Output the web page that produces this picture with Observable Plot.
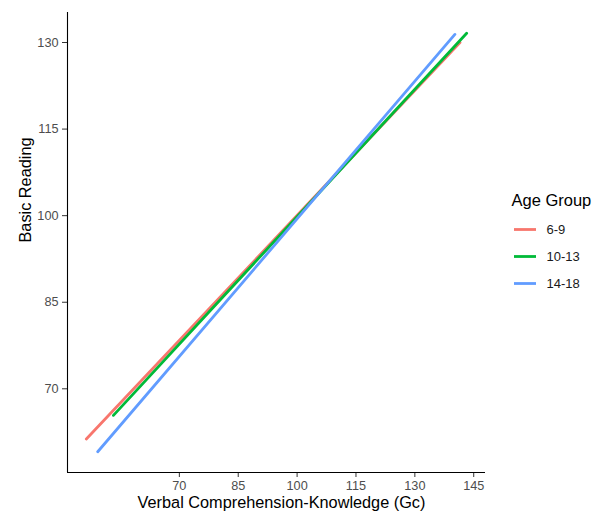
<!DOCTYPE html>
<html>
<head>
<meta charset="utf-8">
<script src="https://cdn.jsdelivr.net/npm/d3@7"></script>
<script src="https://cdn.jsdelivr.net/npm/@observablehq/plot@0.6"></script>
<style>
  html, body { margin: 0; padding: 0; background: #fff; }
  #wrap { position: relative; width: 593px; height: 515px; font-family: "Liberation Sans", Arial, sans-serif; }
  #legend { position: absolute; left: 0; top: 0; }
</style>
</head>
<body>
<div id="wrap"></div>
<script>
const groups = ["6-9", "10-13", "14-18"];
const colors = ["#F8766D", "#00BA38", "#619CFF"];
// fitted line endpoints
const xStart = [46.3, 53.2, 49.2];
const xEnd   = [141.5, 143.2, 140.2];
const yStart = [61.3, 65.4, 59.1];
const yEnd   = [130.0, 131.6, 131.4];
const xTicks = [70, 85, 100, 115, 130, 145];
const yTicks = [70, 85, 100, 115, 130];

const rows = [];
groups.forEach((g, i) => {
  rows.push({group: g, x: xStart[i], y: yStart[i]});
  rows.push({group: g, x: xEnd[i], y: yEnd[i]});
});

const chart = Plot.plot({
  width: 593,
  height: 515,
  marginLeft: 67,
  marginRight: 108,
  marginTop: 12,
  marginBottom: 43,
  style: {fontFamily: "Liberation Sans, Arial, sans-serif", background: "#fff"},
  x: {domain: [41.5, 148], ticks: xTicks, label: null},
  y: {domain: [55.5, 135.2], ticks: yTicks, label: null},
  color: {domain: groups, range: colors},
  marks: [
    Plot.line(rows, {x: "x", y: "y", z: "group", stroke: "group", strokeWidth: 2.8}),
    Plot.axisX({ticks: xTicks, tickSize: 5, tickPadding: 3, fontSize: 12.7, stroke: "#333", label: null}),
    Plot.axisY({ticks: yTicks, tickSize: 5, tickPadding: 4, fontSize: 12.7, stroke: "#333", label: null}),
    Plot.ruleX([41.5], {stroke: "#000", strokeWidth: 1.1}),
    Plot.ruleY([55.5], {stroke: "#000", strokeWidth: 1.1}),
    Plot.text(["Verbal Comprehension-Knowledge (Gc)"], {frameAnchor: "bottom", dx: 5, dy: 35, fontSize: 16.3, fill: "#000"}),
    Plot.text(["Basic Reading"], {frameAnchor: "left", dx: -42, rotate: -90, fontSize: 16.3, fill: "#000"})
  ]
});
chart.querySelectorAll('g[aria-label="x-axis tick label"], g[aria-label="y-axis tick label"]').forEach(g => g.setAttribute("fill", "#4D4D4D"));
const wrap = document.getElementById("wrap");
wrap.appendChild(chart);

// legend (right side)
const ns = "http://www.w3.org/2000/svg";
const lg = document.createElementNS(ns, "svg");
lg.setAttribute("id", "legend");
lg.setAttribute("width", 593);
lg.setAttribute("height", 515);
lg.style.position = "absolute";
lg.style.pointerEvents = "none";
let s = `<text x="511.5" y="206" font-size="16.5" fill="#000" font-family="Liberation Sans, Arial, sans-serif">Age Group</text>`;
groups.forEach((g, i) => {
  const y = 229.5 + i * 27;
  s += `<line x1="514" x2="536" y1="${y}" y2="${y}" stroke="${colors[i]}" stroke-width="2.8"/>`;
  s += `<text x="546.5" y="${y + 4.5}" font-size="13" fill="#1a1a1a" font-family="Liberation Sans, Arial, sans-serif">${g}</text>`;
});
lg.innerHTML = s;
wrap.appendChild(lg);
</script>
</body>
</html>
